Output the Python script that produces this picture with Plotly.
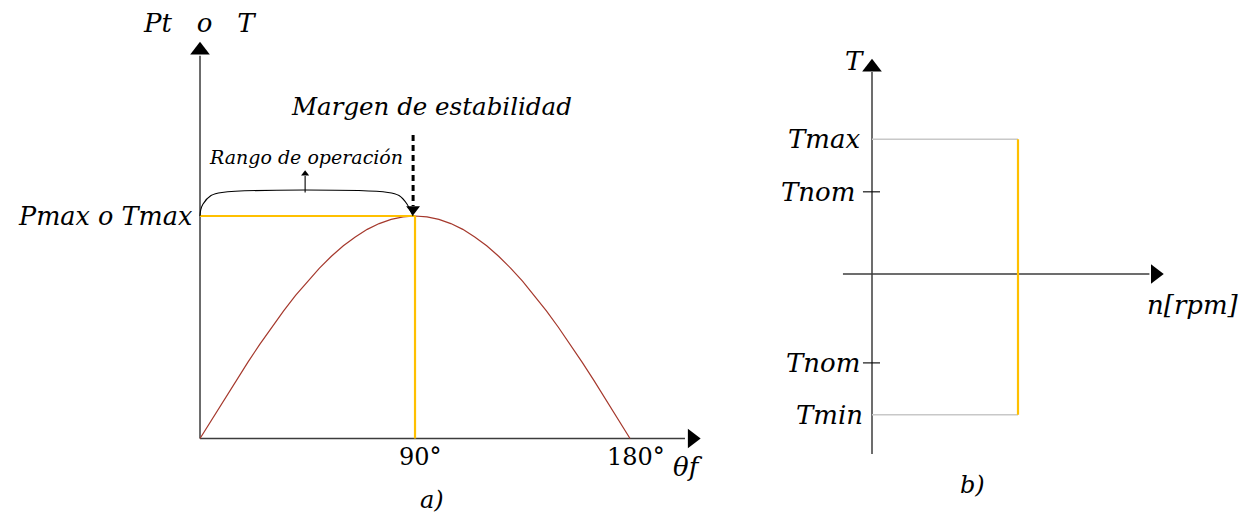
import plotly.graph_objects as go

# ---- panel a): P(theta) curve (P normalised to Pmax = 1)
theta_deg = [0, 5, 10, 15, 20, 25, 30, 35, 40, 45, 50, 55, 60, 65, 70, 75, 80, 85, 90,
             95, 100, 105, 110, 115, 120, 125, 130, 135, 140, 145, 150, 155, 160, 165, 170, 175, 180]
p_curve = [0, 0.087, 0.174, 0.259, 0.342, 0.423, 0.5, 0.574, 0.643, 0.707, 0.766, 0.819,
           0.866, 0.906, 0.94, 0.966, 0.985, 0.996, 1.0,
           0.996, 0.985, 0.966, 0.94, 0.906, 0.866, 0.819, 0.766, 0.707, 0.643, 0.574,
           0.5, 0.423, 0.342, 0.259, 0.174, 0.087, 0]
theta_ticks = [90, 180]
theta_tick_labels = ["90°", "180°"]
p_max = 1.0
theta_op = 90

# brace over the operating range
brace_theta = [0, 0.3, 1.2, 4.6, 9.2, 78.7, 83.3, 86.7, 87.9, 89.2]
brace_p = [1.0, 1.027, 1.053, 1.092, 1.106, 1.106, 1.092, 1.053, 1.027, 1.0]

# ---- panel b): torque limits (normalised to Tmax = 1)
t_max = 1.0
t_nom = 0.61
t_nom_neg = -0.66
t_min = -1.045
n_op = 1.0

AX_COLOR = "#3c3c3c"
CURVE = "#a5382c"
GOLD = "#ffc000"
GREY = "#c8c8c8"
FONT = "DejaVu Serif"

fig = go.Figure()

def line(x, y, color, width, xa="x", ya="y", dash=None, shape="linear"):
    fig.add_trace(go.Scatter(x=x, y=y, mode="lines", xaxis=xa, yaxis=ya,
                             line=dict(color=color, width=width, dash=dash, shape=shape),
                             hoverinfo="skip", showlegend=False))

def head(x, y, symbol, size, xa="x", ya="y"):
    fig.add_trace(go.Scatter(x=[x], y=[y], mode="markers", xaxis=xa, yaxis=ya,
                             marker=dict(symbol=symbol, size=size, color="black", line=dict(width=0)),
                             hoverinfo="skip", showlegend=False))

def label(text, x, y, size, xa="x", ya="y", xanchor="center"):
    fig.add_annotation(text="<i>%s</i>" % text, x=x, y=y, xref=xa, yref=ya,
                       showarrow=False, xanchor=xanchor, yanchor="middle",
                       font=dict(family=FONT, size=size, color="black"))

# ---------------- panel a)
line([0, 0], [0, 1.72], AX_COLOR, 1.5)
head(0, 1.745, "triangle-up", 17)
line([0, 203], [0, 0], AX_COLOR, 1.5)
head(206, 0, "triangle-right", 17)

line(theta_deg, p_curve, CURVE, 1.2)
line([0, theta_op], [p_max, p_max], GOLD, 2.2)
line([theta_op, theta_op], [p_max, 0], GOLD, 2.2)

line(brace_theta, brace_p, "black", 1.1, shape="spline")
line([44, 44], [1.106, 1.18], "black", 1.1)
head(44, 1.19, "triangle-up", 7)

line([89.2, 89.2], [1.364, 1.045], "black", 3, dash="6px,4px")
head(89.2, 1.03, "triangle-down", 12)

label("Pt\u00a0\u00a0\u00a0o\u00a0\u00a0\u00a0T", -0.4, 1.867, 26)
label("Pmax o Tmax", -2.5, p_max, 25.5, xanchor="right")
label("Margen de estabilidad", 97, 1.494, 24.5)
label("Rango de operación", 44.4, 1.265, 19)
for t, s in zip(theta_ticks, theta_tick_labels):
    fig.add_annotation(text=s, x=t + 2.5, y=-0.083, xref="x", yref="y", showarrow=False,
                       font=dict(family=FONT, size=24, color="black"))
label("θf", 204.3, -0.128, 26)
label("a)", 97, -0.276, 24)

# ---------------- panel b)
line([0, 0], [-1.336, 1.5], AX_COLOR, 1.5, "x2", "y2")
head(0, 1.535, "triangle-up", 17, "x2", "y2")
line([-0.199, 1.9], [0, 0], AX_COLOR, 1.5, "x2", "y2")
head(1.94, 0, "triangle-right", 17, "x2", "y2")

line([0, n_op], [t_max, t_max], GREY, 1.5, "x2", "y2")
line([0, n_op], [t_min, t_min], GREY, 1.5, "x2", "y2")
line([n_op, n_op], [t_max, t_min], GOLD, 2.2, "x2", "y2")
line([-0.062, 0.055], [t_nom, t_nom], "black", 1.1, "x2", "y2")
line([-0.062, 0.055], [t_nom_neg, t_nom_neg], "black", 1.1, "x2", "y2")

label("T", -0.123, 1.581, 26, "x2", "y2")
label("Tmax", -0.07, t_max, 26, "x2", "y2", xanchor="right")
label("Tnom", -0.1, t_nom, 26, "x2", "y2", xanchor="right")
label("Tnom", -0.07, t_nom_neg, 26, "x2", "y2", xanchor="right")
label("Tmin", -0.05, t_min, 26, "x2", "y2", xanchor="right")
label("n[rpm]", 2.199, -0.23, 26, "x2", "y2")
label("b)", 0.685, -1.566, 24, "x2", "y2")

hidden = dict(visible=False, showgrid=False, zeroline=False, fixedrange=True)
fig.update_layout(
    width=1250, height=519,
    margin=dict(l=0, r=0, t=0, b=0),
    paper_bgcolor="white", plot_bgcolor="white",
    showlegend=False,
    xaxis=dict(domain=[0, 0.6], range=[-83.72, 230.22], **hidden),
    yaxis=dict(domain=[0, 1], range=[-0.3618, 1.9708], **hidden),
    xaxis2=dict(domain=[0.6, 1], range=[-0.8356, 2.589], anchor="y2", **hidden),
    yaxis2=dict(domain=[0, 1], range=[-1.8189, 2.0341], anchor="x2", **hidden),
)

# the page's default body margin would shift the figure by 8px
fig.write_html("out.html", config={"displayModeBar": False},
               post_script="document.body.style.margin='0';")
